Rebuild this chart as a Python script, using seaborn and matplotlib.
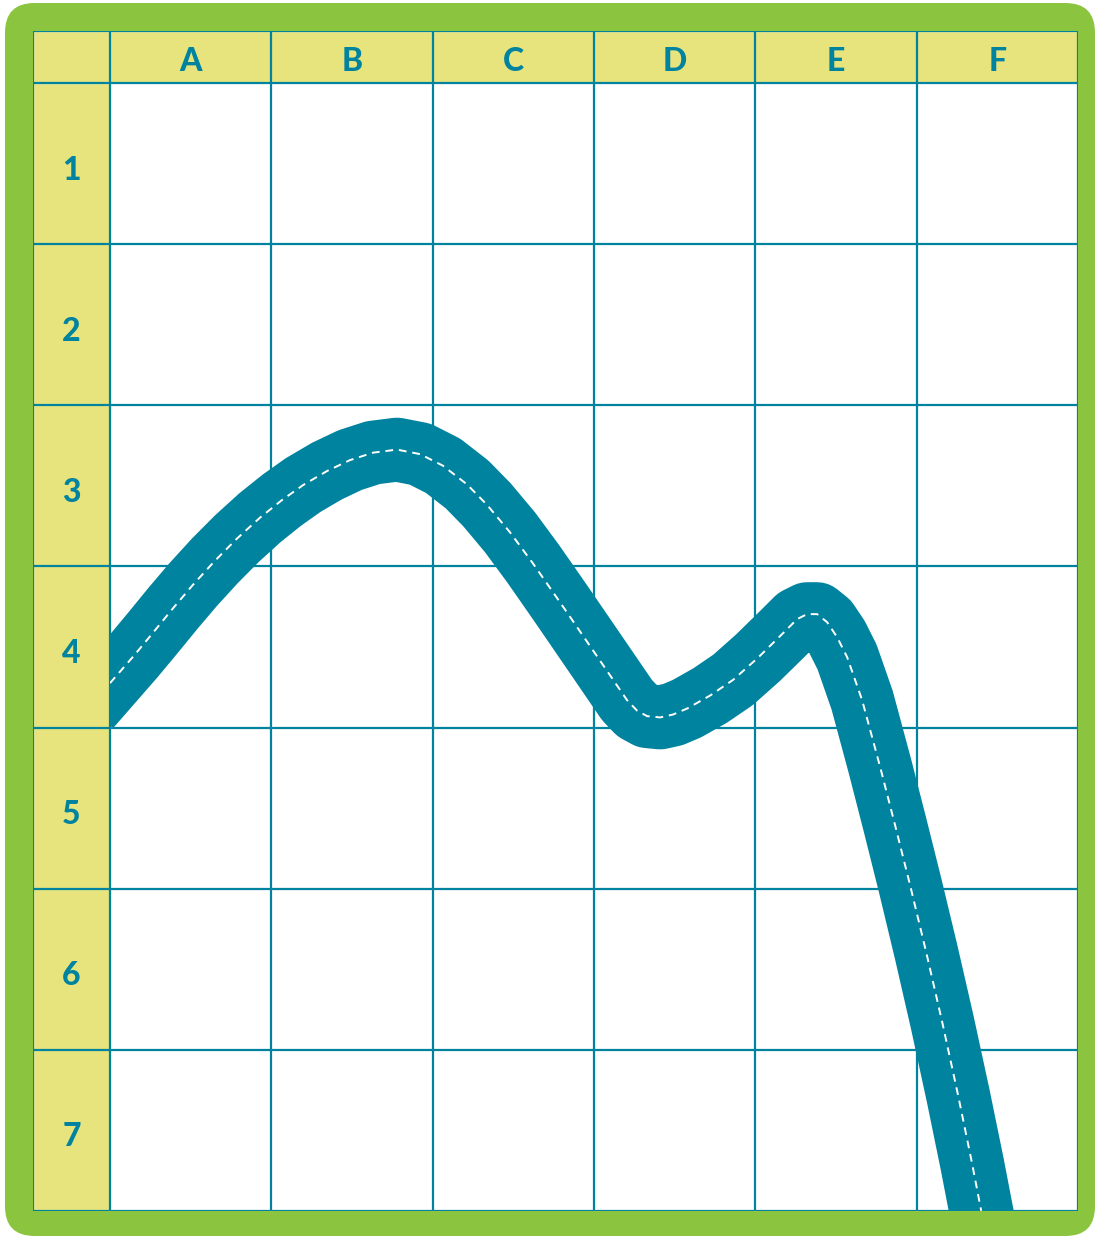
import matplotlib
matplotlib.use("Agg")
import matplotlib.pyplot as plt
from matplotlib.patches import Rectangle, FancyBboxPatch
import seaborn as sns

# Colours
GREEN = '#8BC53F'
YELLOW = '#E7E47E'
TEAL = '#00839F'

# Grid labels
COLUMNS = ['A', 'B', 'C', 'D', 'E', 'F']
ROWS = ['1', '2', '3', '4', '5', '6', '7']

# Road centre line (column units from A's left edge, row units from row 1's top)
road_x = [0.000, 0.143, 0.267, 0.391, 0.515, 0.651, 0.787, 0.930, 1.066,
          1.197, 1.345, 1.488, 1.630, 1.779, 1.922, 2.064, 2.213, 2.337,
          2.480, 2.622, 2.746, 2.833, 2.976, 3.205, 3.267, 3.329, 3.410,
          3.490, 3.577, 3.720, 3.862, 4.017, 4.172, 4.259, 4.321, 4.383,
          4.445, 4.507, 4.569, 4.662, 4.774, 4.867, 4.960, 5.059, 5.158,
          5.257, 5.344, 5.400]
road_y = [3.724, 3.560, 3.411, 3.259, 3.113, 2.964, 2.827, 2.697, 2.588,
          2.495, 2.408, 2.340, 2.294, 2.275, 2.303, 2.375, 2.491, 2.618,
          2.789, 2.982, 3.160, 3.286, 3.495, 3.830, 3.895, 3.929, 3.937,
          3.919, 3.882, 3.801, 3.704, 3.566, 3.414, 3.327, 3.296, 3.296,
          3.346, 3.439, 3.563, 3.830, 4.246, 4.609, 4.981, 5.394, 5.826,
          6.283, 6.708, 6.999]

W, H = 1095, 1236
HEAD_W = 77 / 161.3   # header column width in cell units
HEAD_H = 52 / 161.1   # header row height in cell units
n_col, n_row = len(COLUMNS), len(ROWS)

sns.set_theme(style='white')
plt.rcParams['font.family'] = ['Lato', 'DejaVu Sans']

fig = plt.figure(figsize=(W / 100, H / 100), dpi=100)

# green rounded frame, behind the grid
frame = FancyBboxPatch((5 / W, 0.0), 1 - 5 / W, 1 - 3 / H,
                       boxstyle='round,pad=0,rounding_size=0.027',
                       transform=fig.transFigure, facecolor=GREEN,
                       edgecolor='none', mutation_aspect=W / H, zorder=-5)
fig.patches.append(frame)

ax = fig.add_axes([33 / W, 1 - 1211 / H, (1078 - 33) / W, (1211 - 31) / H])
ax.set_zorder(2)
ax.set_xlim(-HEAD_W, n_col)
ax.set_ylim(n_row, -HEAD_H)
ax.axis('off')

# cells
ax.add_patch(Rectangle((0, 0), n_col, n_row, facecolor='white', zorder=0))
ax.add_patch(Rectangle((-HEAD_W, -HEAD_H), n_col + HEAD_W, HEAD_H,
                       facecolor=YELLOW, zorder=0))
ax.add_patch(Rectangle((-HEAD_W, 0), HEAD_W, n_row, facecolor=YELLOW, zorder=0))

# grid lines
for x in [-HEAD_W] + list(range(n_col + 1)):
    ax.plot([x, x], [-HEAD_H, n_row], color=TEAL, lw=1.6, zorder=1,
            solid_capstyle='projecting')
for y in [-HEAD_H] + list(range(n_row + 1)):
    ax.plot([-HEAD_W, n_col], [y, y], color=TEAL, lw=1.6, zorder=1,
            solid_capstyle='projecting')

# labels
for i, c in enumerate(COLUMNS):
    ax.text(i + 0.5, -HEAD_H / 2 + 0.03, c, ha='center', va='center',
            fontsize=23, fontweight='black', color=TEAL)
for j, r in enumerate(ROWS):
    ax.text(-HEAD_W / 2, j + 0.54, r, ha='center', va='center',
            fontsize=23, fontweight='black', color=TEAL)

# road
clip = Rectangle((0, 0), n_col, n_row, transform=ax.transData)
sns.lineplot(x=road_x, y=road_y, sort=False, estimator=None, color=TEAL,
             lw=46, ax=ax, zorder=3)
road = ax.lines[-1]
road.set_solid_capstyle('projecting')
road.set_solid_joinstyle('round')
road.set_clip_path(clip)

sns.lineplot(x=road_x, y=road_y, sort=False, estimator=None, color='white',
             lw=1.4, ax=ax, zorder=4)
centre = ax.lines[-1]
centre.set_dashes([4, 3])
centre.set_clip_path(clip)

ax.set_xlim(-HEAD_W, n_col)
ax.set_ylim(n_row, -HEAD_H)

fig.savefig('out.png', dpi=100)
